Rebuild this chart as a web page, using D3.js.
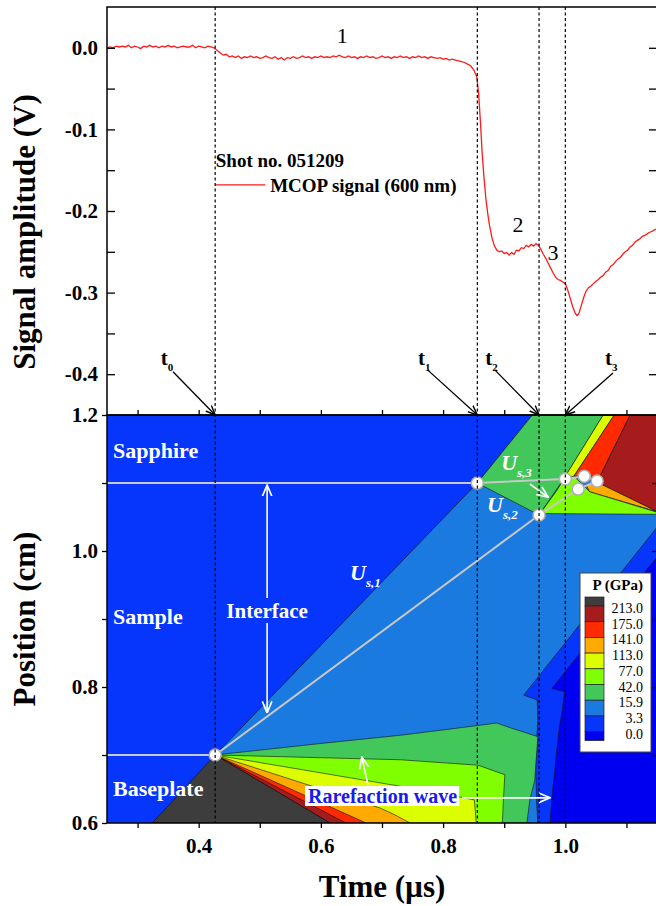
<!DOCTYPE html>
<html>
<head>
<meta charset="utf-8">
<script src="https://cdn.jsdelivr.net/npm/d3@7"></script>
<style>
  body { margin: 0; background: #fff; }
  svg text { font-family: "Liberation Serif", "Times New Roman", serif; }
</style>
</head>
<body>
<svg width="656" height="906"></svg>
<script>
"use strict";
// axis domains
const timeDomain = [0.25, 1.15];       // us
const signalDomain = [-0.45, 0.05];    // V
const positionDomain = [0.6, 1.2];     // cm

const signalTicks = [-0.4, -0.35, -0.3, -0.25, -0.2, -0.15, -0.1, -0.05, 0];
const positionTicks = [0.6, 0.7, 0.8, 0.9, 1.0, 1.1, 1.2];
const timeTicks = [0.3, 0.4, 0.5, 0.6, 0.7, 0.8, 0.9, 1.0, 1.1];

// MCOP signal
const signalTime = [
  0.250,0.255,0.260,0.265,0.270,0.275,0.280,0.285,0.290,0.295,0.300,0.305,0.310,0.315,0.320,0.325,0.330,0.335,
  0.340,0.345,0.350,0.355,0.360,0.365,0.370,0.375,0.380,0.385,0.390,0.395,0.400,0.405,0.410,0.415,0.420,0.425,
  0.430,0.435,0.440,0.445,0.450,0.455,0.460,0.465,0.470,0.475,0.480,0.485,0.490,0.495,0.500,0.505,0.510,0.515,
  0.520,0.525,0.530,0.535,0.540,0.545,0.550,0.555,0.560,0.565,0.570,0.575,0.580,0.585,0.590,0.595,0.600,0.605,
  0.610,0.615,0.620,0.625,0.630,0.635,0.640,0.645,0.650,0.655,0.660,0.665,0.670,0.675,0.680,0.685,0.690,0.695,
  0.700,0.705,0.710,0.715,0.720,0.725,0.730,0.735,0.740,0.745,0.750,0.755,0.760,0.765,0.770,0.775,0.780,0.785,
  0.790,0.795,0.800,0.805,0.810,0.815,0.820,0.825,0.830,0.835,0.840,0.845,0.850,0.855,0.858,0.861,0.864,0.867,
  0.870,0.873,0.876,0.880,0.884,0.888,0.892,0.896,0.900,0.904,0.908,0.912,0.916,0.920,0.924,0.928,0.932,0.936,
  0.940,0.944,0.948,0.952,0.956,0.960,0.964,0.968,0.972,0.976,0.980,0.984,0.988,0.992,0.996,1.000,1.004,1.008,
  1.012,1.016,1.019,1.022,1.026,1.030,1.034,1.038,1.042,1.046,1.050,1.054,1.058,1.062,1.066,1.070,1.074,1.078,
  1.082,1.086,1.090,1.094,1.098,1.102,1.106,1.110,1.114,1.118,1.122,1.126,1.130,1.134,1.138,1.142,1.146,1.150
];
const signalVolt = [
  0.000,0.001,0.000,0.002,0.001,0.002,0.001,0.003,0.000,0.002,0.001,-0.001,0.002,0.001,0.003,0.001,0.002,0.000,
  0.002,0.001,0.003,0.001,0.002,0.000,0.001,0.002,0.001,0.001,0.003,0.000,0.002,0.001,0.000,0.002,0.001,0.000,
  -0.003,-0.006,-0.009,-0.008,-0.011,-0.010,-0.012,-0.010,-0.013,-0.011,-0.012,-0.010,-0.012,-0.011,-0.013,-0.012,-0.010,-0.012,
  -0.013,-0.011,-0.014,-0.012,-0.015,-0.012,-0.013,-0.011,-0.013,-0.012,-0.010,-0.012,-0.011,-0.013,-0.011,-0.012,-0.010,-0.012,
  -0.011,-0.012,-0.010,-0.011,-0.009,-0.011,-0.012,-0.010,-0.012,-0.011,-0.013,-0.011,-0.012,-0.010,-0.012,-0.011,-0.013,-0.012,
  -0.010,-0.012,-0.011,-0.013,-0.011,-0.012,-0.010,-0.012,-0.011,-0.013,-0.011,-0.012,-0.010,-0.012,-0.011,-0.013,-0.011,-0.012,
  -0.013,-0.012,-0.014,-0.013,-0.015,-0.014,-0.015,-0.016,-0.017,-0.018,-0.020,-0.022,-0.027,-0.035,-0.055,-0.090,-0.130,-0.160,
  -0.185,-0.203,-0.218,-0.233,-0.243,-0.248,-0.250,-0.249,-0.252,-0.251,-0.254,-0.251,-0.253,-0.248,-0.249,-0.245,-0.246,-0.242,
  -0.244,-0.241,-0.243,-0.240,-0.242,-0.247,-0.253,-0.258,-0.264,-0.270,-0.276,-0.281,-0.284,-0.285,-0.287,-0.289,-0.297,-0.307,
  -0.317,-0.325,-0.328,-0.326,-0.316,-0.306,-0.298,-0.294,-0.292,-0.289,-0.286,-0.284,-0.281,-0.279,-0.275,-0.273,-0.268,-0.266,
  -0.262,-0.259,-0.257,-0.253,-0.250,-0.248,-0.244,-0.242,-0.238,-0.236,-0.234,-0.231,-0.230,-0.228,-0.226,-0.225,-0.223,-0.222
];

// characteristic times t0..t3
const markerTimes = [0.427, 0.856, 0.957, 1.0];
const markerNames = ["0", "1", "2", "3"];
const markerLabelTime = [0.338, 0.759, 0.869, 1.065];
const markerArrowTime = [0.358, 0.775, 0.885, 1.078];
const markerArrowVolt = [-0.397, -0.395, -0.395, -0.3985];

// pressure colour scale, top of legend first
const pressureLevels = ["213.0", "175.0", "141.0", "113.0", "77.0", "42.0", "15.9", "3.3", "0.0"];
const pressureColors = ["#3d3d3d", "#a61c1c", "#ff2a00", "#ffaa00", "#dcff00", "#80ff00",
                        "#42c75a", "#1a7ae0", "#0635fb", "#0000f0"];

// contour regions (time us, position cm), painted in this order; c = colour index
const contourRegions = [
  { c: 7, pts: [[0.427,0.70],[0.856,1.10],[0.946,1.20],[1.15,1.20],[1.15,1.035],[0.932,0.788],[0.954,0.781],
                [0.955,0.750],[0.953,0.722],[0.951,0.690],[0.952,0.663],[0.953,0.630],[0.955,0.60],[0.615,0.60]] },
  { c: 9, pts: [[1.15,0.991],[0.978,0.798],[0.999,0.793],[0.995,0.766],[0.990,0.740],[0.988,0.722],[0.985,0.700],
                [0.983,0.678],[0.980,0.655],[0.978,0.634],[0.975,0.60],[1.15,0.60]] },
  { c: 6, pts: [[0.856,1.10],[0.946,1.20],[1.062,1.20],[0.996,1.104],[0.957,1.053]] },
  { c: 4, pts: [[1.062,1.20],[1.080,1.20],[1.014,1.110],[0.996,1.104]] },
  { c: 2, pts: [[1.080,1.20],[1.106,1.20],[1.052,1.101],[1.030,1.108],[1.014,1.110]] },
  { c: 1, pts: [[1.106,1.20],[1.15,1.20],[1.15,1.058],[1.052,1.101]] },
  { c: 3, pts: [[1.034,1.097],[1.052,1.101],[1.15,1.058],[1.040,1.087]] },
  { c: 5, pts: [[0.957,1.053],[0.987,1.090],[0.996,1.104],[1.014,1.110],[1.030,1.096],[1.040,1.087],
                [1.15,1.057],[1.15,1.054],[0.970,1.055]] },
  { c: 6, pts: [[0.427,0.70],[0.600,0.717],[0.730,0.729],[0.810,0.738],[0.888,0.747],[0.910,0.740],[0.931,0.734],
                [0.955,0.727],[0.952,0.690],[0.950,0.663],[0.942,0.634],[0.937,0.60],[0.615,0.60]] },
  { c: 5, pts: [[0.427,0.70],[0.730,0.693],[0.857,0.685],[0.901,0.671],[0.899,0.640],[0.897,0.60],[0.615,0.60]] },
  { c: 4, pts: [[0.427,0.70],[0.730,0.654],[0.795,0.644],[0.851,0.634],[0.853,0.615],[0.854,0.60],[0.615,0.60]] },
  { c: 3, pts: [[0.427,0.70],[0.697,0.622],[0.721,0.612],[0.746,0.60],[0.615,0.60]] },
  { c: 2, pts: [[0.427,0.70],[0.674,0.60],[0.615,0.60]] },
  { c: 1, pts: [[0.427,0.70],[0.641,0.60],[0.615,0.60]] },
  { c: 0, pts: [[0.427,0.70],[0.324,0.60],[0.615,0.60]] }
];

// wave diagram points and grey construction lines
const wavePoints = [[0.427,0.70],[0.856,1.10],[0.957,1.053],[1.0,1.106],[1.031,1.110],[1.052,1.103],[1.021,1.091]];
const greyLines = [
  [[0.25,1.10],[0.856,1.10],[1.0,1.106],[1.031,1.110],[1.052,1.103]],
  [[0.25,0.70],[0.427,0.70]],
  [[0.427,0.70],[0.957,1.053],[1.021,1.091],[1.052,1.103]]
];

window.addEventListener("load", draw);

function draw() {
  const svg = d3.select("svg");
  const left = 107, right = 657, topY = 7, midY = 415, bottomY = 823;
  const serif = '"Liberation Serif", "Times New Roman", serif';

  const x = d3.scaleLinear().domain(timeDomain).range([left, right]);
  const ySig = d3.scaleLinear().domain(signalDomain).range([midY, topY]);
  const yPos = d3.scaleLinear().domain(positionDomain).range([bottomY, midY]);

  const defs = svg.append("defs");
  defs.append("clipPath").attr("id", "clipTop").append("rect")
      .attr("x", left).attr("y", topY).attr("width", right - left).attr("height", midY - topY);
  defs.append("clipPath").attr("id", "clipBot").append("rect")
      .attr("x", left).attr("y", midY).attr("width", right - left).attr("height", bottomY - midY);
  function marker(id, color, size) {
    defs.append("marker").attr("id", id)
        .attr("viewBox", "0 0 10 10").attr("refX", 9.5).attr("refY", 5)
        .attr("markerUnits", "userSpaceOnUse").attr("markerWidth", size).attr("markerHeight", size)
        .attr("orient", "auto")
      .append("path").attr("d", "M0,1 L9.5,5 L0,9").attr("fill", "none")
        .attr("stroke", color).attr("stroke-width", 1.4);
  }
  marker("arrBlack", "#000", 10);
  marker("arrWhite", "#fff", 12);

  // ---------- bottom panel: pressure contours ----------
  const gBot = svg.append("g").attr("clip-path", "url(#clipBot)");
  gBot.append("rect").attr("x", left).attr("y", midY)
      .attr("width", right - left).attr("height", bottomY - midY).attr("fill", pressureColors[8]);

  const line = d3.line().x(d => x(d[0])).y(d => yPos(d[1]));
  gBot.selectAll("path.region")
    .data(contourRegions)
    .join("path")
      .attr("class", "region")
      .attr("d", r => line(r.pts) + "Z")
      .attr("fill", r => pressureColors[r.c])
      .attr("stroke", "#111")
      .attr("stroke-width", 0.6)
      .attr("stroke-linejoin", "round");

  gBot.selectAll("path.grey")
    .data(greyLines)
    .join("path")
      .attr("class", "grey")
      .attr("d", line)
      .attr("fill", "none")
      .attr("stroke", "#c8c8c8")
      .attr("stroke-width", 2);

  gBot.selectAll("circle")
    .data(wavePoints)
    .join("circle")
      .attr("cx", d => x(d[0]))
      .attr("cy", d => yPos(d[1]))
      .attr("r", 6)
      .attr("fill", "#fff")
      .attr("stroke", "#b0b0b0")
      .attr("stroke-width", 1.5);

  // white annotations
  function whiteArrow(a, b, head) {
    gBot.append("line")
        .attr("x1", x(a[0])).attr("y1", yPos(a[1]))
        .attr("x2", x(b[0])).attr("y2", yPos(b[1]))
        .attr("stroke", "#fff").attr("stroke-width", 1.6)
        .attr("marker-end", head ? "url(#arrWhite)" : null);
  }
  whiteArrow([0.512, 0.931], [0.512, 1.097], true);
  whiteArrow([0.512, 0.894], [0.512, 0.762], true);
  whiteArrow([0.942, 1.0985], [0.972, 1.079], true);
  whiteArrow([0.677, 0.656], [0.667, 0.697], true);

  function label(g, t, p, str, opts) {
    return g.append("text")
        .attr("x", x(t)).attr("y", yPos(p))
        .attr("fill", opts.fill || "#fff")
        .attr("font-size", opts.size || 22)
        .attr("font-weight", "bold")
        .attr("text-anchor", opts.anchor || "start")
        .text(str);
  }
  label(gBot, 0.2598, 1.137, "Sapphire", {});
  label(gBot, 0.2598, 0.8926, "Sample", {});
  label(gBot, 0.2598, 0.6397, "Baseplate", {});
  label(gBot, 0.512, 0.9015, "Interface", { anchor: "middle", size: 21 });

  function waveLabel(t, p, sub) {
    const tx = gBot.append("text")
        .attr("x", x(t)).attr("y", yPos(p))
        .attr("fill", "#fff").attr("font-weight", "bold").attr("font-style", "italic")
        .attr("font-size", 22);
    tx.append("tspan").text("U");
    tx.append("tspan").attr("font-size", 13).attr("dy", 7).text(sub);
  }
  waveLabel(0.6477, 0.957, "s,1");
  waveLabel(0.895, 1.119, "s,3");
  waveLabel(0.872, 1.057, "s,2");

  const rare = label(gBot, 0.579, 0.6294, "Rarefaction wave", { fill: "#1a1aee", size: 20 });
  const bb = rare.node().getBBox();
  gBot.insert("rect", () => rare.node())
      .attr("x", bb.x - 3).attr("y", bb.y + 1).attr("width", bb.width + 5).attr("height", bb.height - 2)
      .attr("fill", "#fff");
  whiteArrow([0.831, 0.637], [0.975, 0.637], true);

  // legend
  const lg = svg.append("g");
  lg.append("rect").attr("x", 580).attr("y", 573).attr("width", 71).attr("height", 179)
      .attr("fill", "#fff").attr("stroke", "#444").attr("stroke-width", 1);
  lg.append("text").attr("x", 643).attr("y", 590).attr("text-anchor", "end")
      .attr("font-size", 15).attr("font-weight", "bold").text("P (GPa)");
  const boxTop = 606, step = 15.7;
  lg.selectAll("rect.key")
    .data(pressureColors)
    .join("rect")
      .attr("class", "key")
      .attr("x", 585).attr("width", 19)
      .attr("y", (c, i) => i === 0 ? boxTop - 9 : boxTop + (i - 1) * step)
      .attr("height", (c, i) => (i === 0 || i === pressureColors.length - 1) ? 9 : step)
      .attr("fill", c => c)
      .attr("stroke", "#222").attr("stroke-width", 0.7);
  lg.selectAll("text.lvl")
    .data(pressureLevels)
    .join("text")
      .attr("class", "lvl")
      .attr("x", 643).attr("y", (d, i) => boxTop + i * step + 7)
      .attr("text-anchor", "end").attr("font-size", 14)
      .text(d => d);

  // ---------- top panel: signal ----------
  const gTop = svg.append("g").attr("clip-path", "url(#clipTop)");
  gTop.append("path")
      .datum(signalTime.map((t, i) => [t, signalVolt[i]]))
      .attr("d", d3.line().x(d => x(d[0])).y(d => ySig(d[1])))
      .attr("fill", "none")
      .attr("stroke", "#ff1a1a")
      .attr("stroke-width", 1.3);

  svg.append("text").attr("x", x(0.428)).attr("y", ySig(-0.146))
      .attr("font-size", 19).attr("font-weight", "bold").text("Shot no. 051209");
  svg.append("line")
      .attr("x1", x(0.427)).attr("x2", x(0.509))
      .attr("y1", ySig(-0.168)).attr("y2", ySig(-0.168))
      .attr("stroke", "#ff1a1a").attr("stroke-width", 1.3);
  svg.append("text").attr("x", x(0.517)).attr("y", ySig(-0.177))
      .attr("font-size", 19).attr("font-weight", "bold").text("MCOP signal (600 nm)");

  const stageLabels = [["1", 0.635, 0.0059], ["2", 0.9227, -0.2257], ["3", 0.98, -0.26]];
  svg.selectAll("text.stage")
    .data(stageLabels)
    .join("text")
      .attr("class", "stage")
      .attr("x", d => x(d[1])).attr("y", d => ySig(d[2]))
      .attr("text-anchor", "middle").attr("font-size", 22)
      .text(d => d[0]);

  // dashed time markers across both panels
  svg.selectAll("line.tmark")
    .data(markerTimes)
    .join("line")
      .attr("class", "tmark")
      .attr("x1", d => x(d)).attr("x2", d => x(d))
      .attr("y1", topY).attr("y2", bottomY)
      .attr("stroke", "#000").attr("stroke-width", 1.2)
      .attr("stroke-dasharray", "3,2.5");

  markerTimes.forEach((t, i) => {
    const tx = svg.append("text")
        .attr("x", x(markerLabelTime[i])).attr("y", ySig(-0.3887))
        .attr("font-size", 21).attr("font-weight", "bold");
    tx.append("tspan").text("t");
    tx.append("tspan").attr("font-size", 11).attr("dy", 6).text(markerNames[i]);
    svg.append("line")
        .attr("x1", x(markerArrowTime[i])).attr("y1", ySig(markerArrowVolt[i]))
        .attr("x2", x(t)).attr("y2", midY)
        .attr("stroke", "#000").attr("stroke-width", 1.3)
        .attr("marker-end", "url(#arrBlack)");
  });

  // ---------- frames and axes ----------
  [[topY, midY], [midY, bottomY]].forEach(([a, b]) => {
    svg.append("rect").attr("x", left).attr("y", a).attr("width", right - left).attr("height", b - a)
        .attr("fill", "none").attr("stroke", "#000").attr("stroke-width", 1.5);
  });

  const isMult = (d, k) => Math.abs(d * k - Math.round(d * k)) < 1e-6;
  function style(g) {
    g.select(".domain").remove();
    g.attr("font-family", serif).attr("font-size", 21).attr("font-weight", "bold");
    g.selectAll(".tick line").attr("stroke-width", 1.3);
  }

  svg.append("g").attr("transform", `translate(${left},0)`)
      .call(d3.axisLeft(ySig).tickValues(signalTicks).tickSize(-8).tickPadding(9)
              .tickFormat(d => isMult(d, 10) ? d.toFixed(1) : ""))
      .call(style);
  svg.append("g").attr("transform", `translate(${right},0)`)
      .call(d3.axisRight(ySig).tickValues(signalTicks).tickSize(-8).tickFormat(""))
      .call(style);
  svg.append("g").attr("transform", `translate(0,${midY})`)
      .call(d3.axisBottom(x).tickValues(timeTicks).tickSize(-5).tickFormat(""))
      .call(style);

  svg.append("g").attr("transform", `translate(${left},0)`)
      .call(d3.axisLeft(yPos).tickValues(positionTicks).tickSize(5).tickPadding(4)
              .tickFormat(d => isMult(d, 5) ? d.toFixed(1) : ""))
      .call(style);
  svg.append("g").attr("transform", `translate(${right},0)`)
      .call(d3.axisRight(yPos).tickValues(positionTicks.slice(1, -1)).tickSize(-5).tickFormat(""))
      .call(style);
  svg.append("g").attr("transform", `translate(0,${bottomY})`)
      .call(d3.axisBottom(x).tickValues(timeTicks).tickSize(5).tickPadding(10)
              .tickFormat(d => isMult(d, 5) ? d.toFixed(1) : ""))
      .call(style);

  // axis titles
  svg.append("text")
      .attr("transform", "translate(35,232) rotate(-90)")
      .attr("text-anchor", "middle").attr("font-size", 31).attr("font-weight", "bold")
      .text("Signal amplitude (V)");
  svg.append("text")
      .attr("transform", "translate(35,619) rotate(-90)")
      .attr("text-anchor", "middle").attr("font-size", 31).attr("font-weight", "bold")
      .text("Position (cm)");
  svg.append("text")
      .attr("x", (left + right) / 2).attr("y", 897)
      .attr("text-anchor", "middle").attr("font-size", 31).attr("font-weight", "bold")
      .text("Time (\u00b5s)");
}
</script>
</body>
</html>
